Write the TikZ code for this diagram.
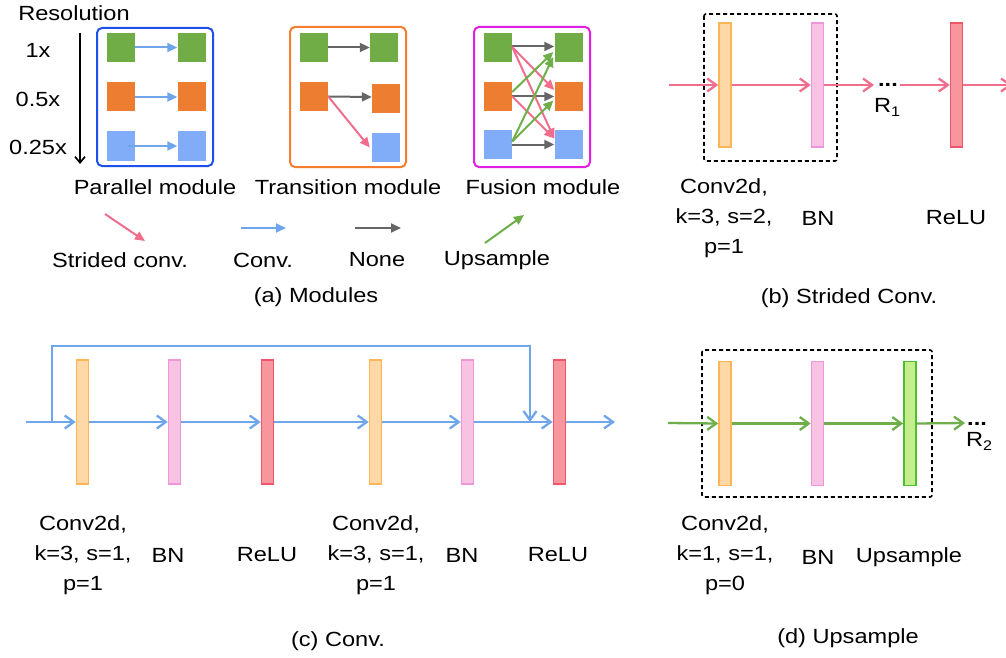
\documentclass[tikz,border=0pt]{standalone}
\usepackage{fontspec}
\setmainfont[FakeStretch=1.15]{Liberation Sans}
\usetikzlibrary{arrows.meta,calc}

% square colours (resolution branches)
\definecolor{sqgreen}{RGB}{112,173,71}
\definecolor{sqorange}{RGB}{237,125,49}
\definecolor{sqblue}{RGB}{128,172,248}
% connector colours
\definecolor{lnpink}{RGB}{240,110,140}
\definecolor{lnblue}{RGB}{110,165,235}
\definecolor{lngreen}{RGB}{110,175,75}
\definecolor{lngray}{RGB}{102,102,102}
% module frames
\definecolor{frblue}{RGB}{30,80,235}
\definecolor{frorange}{RGB}{245,125,45}
\definecolor{frmagenta}{RGB}{225,30,230}
% layer bars
\definecolor{convfill}{RGB}{255,216,168}
\definecolor{convline}{RGB}{255,180,85}
\definecolor{bnfill}{RGB}{248,194,226}
\definecolor{bnline}{RGB}{238,150,216}
\definecolor{relufill}{RGB}{248,150,158}
\definecolor{reluline}{RGB}{240,85,105}
\definecolor{upfill}{RGB}{196,238,140}
\definecolor{upline}{RGB}{76,190,48}

\tikzset{
  every node/.style={font=\fontsize{20.5}{30}\selectfont},
  sq/.style={minimum width=28pt, minimum height=29pt, inner sep=0pt},
  gsq/.style={sq, fill=sqgreen},
  osq/.style={sq, fill=sqorange},
  bsq/.style={sq, fill=sqblue},
  frame/.style={line width=2pt, rounded corners=5pt},
  tri/.style={line width=2pt, -{Triangle[length=10pt,width=9pt]}},
  barb/.style={line width=2.3pt, -{Straight Barb[length=9pt,width=13pt]}},
  layer/.style={minimum width=12pt, minimum height=124pt, inner sep=0pt, line width=1.6pt},
  convbar/.style={layer, fill=convfill, draw=convline},
  bnbar/.style={layer, fill=bnfill, draw=bnline},
  relubar/.style={layer, fill=relufill, draw=reluline},
  upbar/.style={layer, fill=upfill, draw=upline},
  dbox/.style={line width=1.6pt, dash pattern=on 4pt off 3pt, rounded corners=2pt},
  lbl/.style={align=center, inner sep=0pt},
}

\begin{document}
\begin{tikzpicture}[x=1pt, y=-1pt]
\useasboundingbox (0,0) rectangle (1006,658);

%% ---------------- (a) Modules ----------------
\node (res) at (74,13) {Resolution};
\node (r1) at (38,50) {1x};
\node (r2) at (38,99) {0.5x};
\node (r3) at (38,147) {0.25x};
\coordinate (rtop) at (80,33);
\coordinate (rbot) at (80,164);
\draw[line width=1.7pt, -{Straight Barb[length=6pt,width=10pt]}] (rtop) -- (rbot);

% parallel module
\draw[frame, draw=frblue] (97,28) rectangle (213,166);
\node[gsq] (gL1) at (121,47.5) {};
\node[osq] (oL1) at (121,97) {};
\node[bsq] (bL1) at (121,146) {};
\node[gsq] (gR1) at (191.5,47.5) {};
\node[osq] (oR1) at (191.5,97) {};
\node[bsq] (bR1) at (191.5,146) {};
\draw[tri, lnblue] (gL1.east) -- (gR1.west);
\draw[tri, lnblue] (oL1.east) -- (oR1.west);
\draw[tri, lnblue] ($(bL1.east)+(-7,0)$) -- (bR1.west);

% transition module
\draw[frame, draw=frorange] (290,27) rectangle (406,167);
\node[gsq] (gL2) at (314,47.5) {};
\node[osq] (oL2) at (314,96.5) {};
\node[gsq] (gR2) at (384,47.5) {};
\node[osq] (oR2) at (386,98.5) {};
\node[bsq] (bR2) at (386,147.5) {};
\draw[tri, lngray] (gL2.east) -- (gR2.west);
\draw[tri, lngray] (oL2.east) -- ($(oR2.west)+(0,-1.5)$);
\draw[tri, lnpink] (oL2.east) -- ($(bR2.west)+(-2,0)$);

% fusion module
\draw[frame, draw=frmagenta] (474,27) rectangle (590,167);
\node[gsq] (gL3) at (498,48) {};
\node[osq] (oL3) at (498,96.5) {};
\node[bsq] (bL3) at (498,144.5) {};
\node[gsq] (gR3) at (568.5,48) {};
\node[osq] (oR3) at (568.5,96.5) {};
\node[bsq] (bR3) at (568.5,144.5) {};
\draw[tri, lngray] ($(gL3.east)+(0,-1.5)$) -- ($(gR3.west)+(0,-1.5)$);
\draw[tri, lngray] (oL3.east) -- (oR3.west);
\draw[tri, lngray] (bL3.east) -- (bR3.west);
\draw[tri, lnpink] ($(gL3.east)+(0,-1)$) -- ($(oR3.west)+(0,-6.5)$);
\draw[tri, lnpink] ($(gL3.east)+(0,-1)$) -- ($(bR3.west)+(0,-6)$);
\draw[tri, lnpink] (oL3.east) -- ($(bR3.west)+(0,-6)$);
\draw[tri, lngreen] ($(oL3.east)+(0,-4.5)$) -- ($(gR3.west)+(-1,4)$);
\draw[tri, lngreen] ($(bL3.east)+(0,-3)$) -- ($(gR3.west)+(-1,9)$);
\draw[tri, lngreen] ($(bL3.east)+(0,-3)$) -- ($(oR3.west)+(-1,4)$);

\node (tP) at (155,187) {Parallel module};
\node (tT) at (348,187) {Transition module};
\node (tF) at (543,187) {Fusion module};

% legend
\coordinate (lpA) at (105,214); \coordinate (lpB) at (145,241);
\coordinate (lbA) at (241,228); \coordinate (lbB) at (286,228);
\coordinate (lgA) at (355,228); \coordinate (lgB) at (401,228);
\coordinate (luA) at (485,243); \coordinate (luB) at (524,215);
\draw[tri, lnpink] (lpA) -- (lpB);
\draw[tri, lnblue] (lbA) -- (lbB);
\draw[tri, lngray] (lgA) -- (lgB);
\draw[tri, lngreen] (luA) -- (luB);
\node (tS) at (120,260) {Strided conv.};
\node (tC) at (263,260) {Conv.};
\node (tN) at (377,260) {None};
\node (tU) at (497,260) {Upsample};
\node (capA) at (316,297) {(a) Modules};

%% ---------------- (b) Strided Conv. ----------------
\draw[dbox] (704,14) rectangle (837,161);
\node[convbar] (b1) at (725,85) {};
\node[bnbar] (b2) at (817.5,85) {};
\node[relubar] (b3) at (956.5,85) {};
\coordinate (bin) at (669,85);
\coordinate (bmid) at (874,85);
\coordinate (bres) at (900,85);
\coordinate (bout) at (1012,85);
\node[anchor=base, inner sep=0pt] (bdots) at (888,87) {\bfseries ...};
\node (R1) at (887,107) {R\raisebox{-4pt}{\fontsize{14}{14}\selectfont 1}};
\draw[barb, lnpink] (bin) -- (b1.west);
\draw[barb, lnpink] (b1.east) -- (b2.west);
\draw[barb, lnpink] (b2.east) -- (bmid);
\draw[barb, lnpink] (bres) -- (b3.west);
\draw[barb, lnpink] (b3.east) -- (bout);
\node[lbl] (tb1) at (724,218) {Conv2d,\\k=3, s=2,\\p=1};
\node (tb2) at (818,218) {BN};
\node (tb3) at (956,218) {ReLU};
\node (capB) at (849,298) {(b) Strided Conv.};

%% ---------------- (c) Conv. ----------------
\node[convbar] (c1) at (82.5,422) {};
\node[bnbar] (c2) at (174.5,422) {};
\node[relubar] (c3) at (267.5,422) {};
\node[convbar] (c4) at (375.5,422) {};
\node[bnbar] (c5) at (467.5,422) {};
\node[relubar] (c6) at (559.5,422) {};
\coordinate (cin) at (26,422);
\coordinate (skA) at (52,422);
\coordinate (skT) at (530,346);
\coordinate (skB) at (530,422);
\coordinate (cout) at (615,422);
\draw[line width=2.3pt, lnblue] (cin) -- (skA);
\draw[barb, lnblue] (skA) -- (c1.west);
\draw[barb, lnblue] (c1.east) -- (c2.west);
\draw[barb, lnblue] (c2.east) -- (c3.west);
\draw[barb, lnblue] (c3.east) -- (c4.west);
\draw[barb, lnblue] (c4.east) -- (c5.west);
\draw[barb, lnblue] (c5.east) -- (c6.west);
\draw[barb, lnblue] (c6.east) -- (cout);
\draw[barb, lnblue] (skA) |- (skT) -- (skB);
\node[lbl] (tc1) at (83,555) {Conv2d,\\k=3, s=1,\\p=1};
\node (tc2) at (168,555) {BN};
\node (tc3) at (267,555) {ReLU};
\node[lbl] (tc4) at (376,555) {Conv2d,\\k=3, s=1,\\p=1};
\node (tc5) at (462,555) {BN};
\node (tc6) at (558,555) {ReLU};
\node (capC) at (338,641) {(c) Conv.};

%% ---------------- (d) Upsample ----------------
\draw[dbox] (702,350) rectangle (932,497);
\node[convbar] (d1) at (725,423.5) {};
\node[bnbar] (d2) at (817.5,423.5) {};
\node[upbar] (d3) at (910,423.5) {};
\coordinate (din) at (668,423);
\coordinate (dout) at (965,423);
\draw[barb, lngreen] (din) -- (d1.west);
\draw[barb, lngreen] (d1.east) -- (d2.west);
\draw[barb, lngreen] (d2.east) -- (d3.west);
\draw[barb, lngreen] (d3.east) -- (dout);
\node[anchor=base west, inner sep=0pt] (ddots) at (967,425) {\bfseries ...};
\node (R2) at (979,441) {R\raisebox{-4pt}{\fontsize{14}{14}\selectfont 2}};
\node[lbl] (td1) at (725,555) {Conv2d,\\k=1, s=1,\\p=0};
\node (td2) at (818,557) {BN};
\node (td3) at (909,557) {Upsample};
\node (capD) at (848,638) {(d) Upsample};
\end{tikzpicture}
\end{document}
